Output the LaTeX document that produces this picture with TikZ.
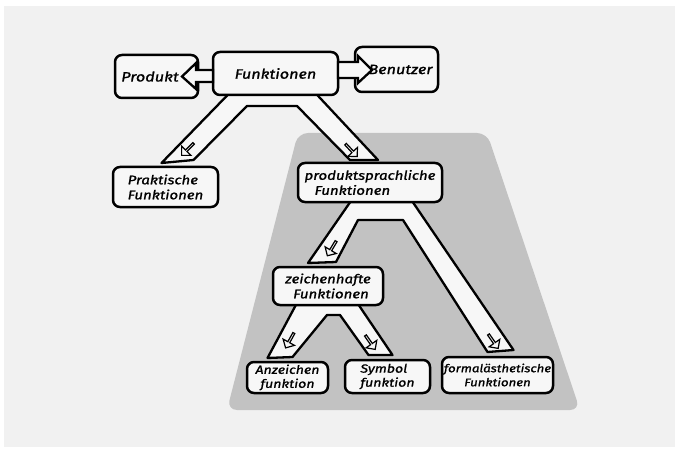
\documentclass[tikz,border=0pt]{standalone}
\usepackage{fontspec}
\newfontfamily\hand{Fira Sans}[FakeStretch=1.2,FakeBold=1.2]
\usetikzlibrary{calc,shapes.arrows}
\pgfdeclarelayer{bglayer}
\pgfdeclarelayer{bandlayer}
\pgfsetlayers{bglayer,bandlayer,main}
\definecolor{pagebg}{HTML}{F1F1F1}
\definecolor{trap}{HTML}{C2C2C2}
\definecolor{boxfill}{HTML}{F7F7F7}
\begin{document}
\begin{tikzpicture}[x=1pt,y=-1pt,
  box/.style={draw=black, line width=2.5pt, rounded corners=7pt, fill=boxfill, inner sep=1pt, outer sep=0pt},
  toprow/.style={box, font=\hand\itshape\fontsize{13.5}{16}\selectfont},
  midrow/.style={box, font=\hand\itshape\fontsize{12.5}{15}\selectfont},
  lowrow/.style={box, font=\hand\itshape\fontsize{11.8}{14}\selectfont},
  band/.style={draw=black, line width=2.3pt, fill=boxfill, line join=round},
  glyph/.style={single arrow, draw=black, line width=1.2pt, fill=boxfill, minimum height=17pt, minimum width=13pt, single arrow head extend=3pt, inner sep=0pt},
  blockarrow/.style={draw=black, line width=2.3pt, fill=boxfill, line join=miter}
]
\useasboundingbox (0,0) rectangle (679,449);
\begin{pgfonlayer}{bglayer}
  \fill[white] (0,0) rectangle (679,449);
  \fill[pagebg] (4,6) rectangle (675,447);
  \fill[trap, rounded corners=10pt] (298,133) -- (487,133) -- (580,410) -- (227,410) -- cycle;
\end{pgfonlayer}

% nodes
\node[toprow, minimum width=83pt, minimum height=43pt] (prod) at (156.5,76.5) {Produkt\kern13pt};
\node[toprow, minimum width=125pt, minimum height=43pt] (fun) at (275.5,73.5) {Funktionen};
\node[toprow, minimum width=83pt, minimum height=45pt] (ben) at (396.5,69.5) {\kern8pt Benutzer};
\node[midrow, align=left, minimum width=105pt, minimum height=40pt] (prak) at (165.5,187) {Praktische\\Funktionen};
\node[midrow, align=left, minimum width=144pt, minimum height=39pt] (ps) at (370,182.5) {produktsprachliche\\\hspace*{10pt}Funktionen};
\node[midrow, align=center, minimum width=110pt, minimum height=38pt] (zh) at (328,286) {zeichenhafte\\\hspace*{6pt}Funktionen};
\node[lowrow, align=center, minimum width=81pt, minimum height=31pt] (anz) at (287.5,377.5) {Anzeichen\\funktion};
\node[lowrow, align=left, minimum width=85pt, minimum height=33pt] (sym) at (387.5,376.5) {Symbol\\funktion};
\node[lowrow, align=center, minimum width=111pt, minimum height=36pt, font=\hand\itshape\fontsize{11}{14}\selectfont] (form) at (497.5,375) {formalästhetische\\Funktionen};

% wide band connectors (behind the boxes)
\begin{pgfonlayer}{bandlayer}
  \draw[band] ($(fun.south)+(-44,-4)$) -- ($(prak.north)+(-4,-4)$) -- ($(prak.north)+(28,-7)$)
     -- ($(fun.south)+(-28.5,11)$) -- ($(fun.south)+(21.5,11)$)
     -- ($(ps.north)+(-20,-3)$) -- ($(ps.north)+(8,-3)$) -- ($(fun.south)+(38,-4)$) -- cycle;
  \draw[band] ($(ps.south)+(-17,-4)$) -- ($(zh.north)+(-20,-4)$) -- ($(zh.north)+(8,-5)$)
     -- ($(ps.south)+(-12,18)$) -- ($(ps.south)+(33,18)$)
     -- ($(form.north)+(-10,-5)$) -- ($(form.north)+(16,-7)$) -- ($(ps.south)+(40,-4)$) -- cycle;
  \draw[band] ($(zh.south)+(-30,-4)$) -- ($(anz.north)+(-20,-4)$) -- ($(anz.north)+(5,-5)$)
     -- ($(zh.south)+(-1,10)$) -- ($(zh.south)+(12,10)$)
     -- ($(sym.north)+(-19,-5)$) -- ($(sym.north)+(5,-5)$) -- ($(zh.south)+(28,-4)$) -- cycle;
\end{pgfonlayer}

% small arrow marks inside the bands
\node[glyph, rotate=225] (gA1) at (188,149) {};
\node[glyph, rotate=-47] (gA2) at (351,150) {};
\node[glyph, rotate=239] (gB1) at (332,248) {};
\node[glyph, rotate=-55] (gB2) at (493,341) {};
\node[glyph, rotate=241] (gC1) at (290,340) {};
\node[glyph, rotate=-55] (gC2) at (370,342) {};

% horizontal block arrows
\draw[blockarrow] ($(fun.west)+(0,-3.5)$) -- ($(prod.east)+(-2,-6.5)$) -- ($(prod.east)+(-2,-13.5)$)
   -- ($(prod.east)+(-16,0)$) -- ($(prod.east)+(-2,12.5)$) -- ($(prod.east)+(-2,5.5)$)
   -- ($(fun.west)+(0,8.5)$) -- cycle;
\draw[blockarrow] ($(fun.east)+(0,-11.5)$) -- ($(ben.west)+(3,-7.5)$) -- ($(ben.west)+(3,-13.5)$)
   -- ($(ben.west)+(17,0.5)$) -- ($(ben.west)+(3,13.5)$) -- ($(ben.west)+(3,8.5)$)
   -- ($(fun.east)+(0,4.5)$) -- cycle;
\end{tikzpicture}
\end{document}
